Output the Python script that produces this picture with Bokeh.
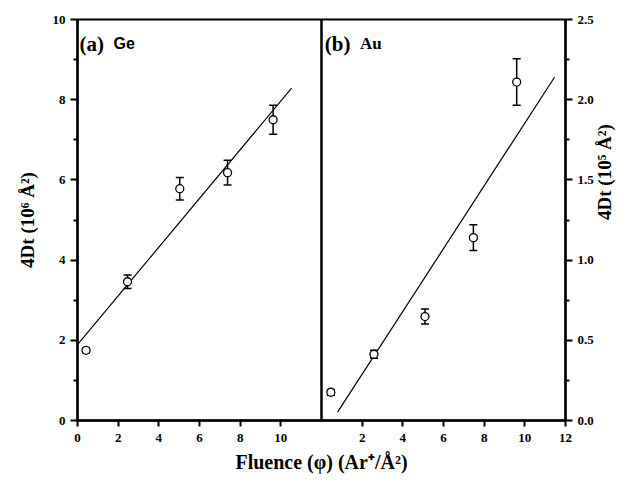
import math
import numpy as np
from bokeh.plotting import figure
from bokeh.models import (Range1d, LinearAxis, FixedTicker, Span, Label,
                          ColumnDataSource, Whisker, TeeHead)
from bokeh.embed import file_html
from bokeh.resources import INLINE

# ---- data ----
ge_fluence = [0.42, 2.46, 5.03, 7.38, 9.62]
ge_4dt = [1.75, 3.46, 5.78, 6.18, 7.50]
ge_err = [0.06, 0.17, 0.28, 0.31, 0.36]
ge_fit_x = [0.03, 10.53]
ge_fit_y = [1.91, 8.29]

au_fluence = [0.46, 2.58, 5.09, 7.47, 9.60]
au_4dt = [0.176, 0.413, 0.648, 1.14, 2.11]
au_err = [0.018, 0.025, 0.047, 0.08, 0.145]
au_fit_x = [0.79, 11.46]
au_fit_y = [0.052, 2.14]

ge_xticks = [0, 2, 4, 6, 8, 10]
au_xticks = [2, 4, 6, 8, 10, 12]
panel_width = 12  # each panel spans 0..12 in fluence

SERIF = "Liberation Serif"

p = figure(width=628, height=484, output_backend="svg", toolbar_location=None,
           x_range=Range1d(0, 2 * panel_width), y_range=Range1d(0, 10),
           min_border_left=77, min_border_right=62, min_border_top=19,
           min_border_bottom=64, background_fill_color="white",
           border_fill_color="white")
p.extra_y_ranges = {"au": Range1d(0, 2.5)}
p.grid.visible = False
p.outline_line_color = "black"
p.outline_line_width = 2

# axes styling
def style_axis(ax):
    ax.axis_line_width = 2.5
    ax.major_tick_line_width = 2
    ax.minor_tick_line_width = 2
    ax.major_tick_in = 0
    ax.minor_tick_in = 0
    ax.major_label_text_font = SERIF
    ax.major_label_text_font_style = "bold"
    ax.major_label_text_font_size = "13px"
    ax.major_label_text_color = "black"
    ax.axis_label_text_font = SERIF
    ax.axis_label_text_font_style = "bold"
    ax.axis_label_text_font_size = "19px"
    ax.axis_label_text_color = "black"
    ax.axis_line_color = "black"
    ax.major_tick_line_color = "black"
    ax.minor_tick_line_color = "black"

xaxis = p.xaxis[0]
style_axis(xaxis)
xt = ge_xticks + [t + panel_width for t in au_xticks]
xaxis.ticker = FixedTicker(ticks=xt, minor_ticks=[])
xaxis.major_label_overrides = {t + panel_width: str(t) for t in au_xticks}
xaxis.major_label_overrides.update({t: str(t) for t in ge_xticks})
xaxis.major_tick_out = 6
xaxis.major_label_standoff = 7
xaxis.axis_label = "Fluence (\u03c6) (Ar\u207a/\u00c5\u00b2)"
xaxis.axis_label_text_font_size = "20px"
xaxis.axis_label_standoff = 6

yaxis = p.yaxis[0]
style_axis(yaxis)
yaxis.ticker = FixedTicker(ticks=[0, 2, 4, 6, 8, 10], minor_ticks=[1, 3, 5, 7, 9])
yaxis.major_tick_out = 7
yaxis.minor_tick_out = 4
yaxis.major_label_standoff = 5
yaxis.axis_label = "4Dt (10\u2076 \u00c5\u00b2)"
yaxis.axis_label_standoff = 12

raxis = LinearAxis(y_range_name="au")
style_axis(raxis)
raxis.ticker = FixedTicker(ticks=[0, 0.5, 1.0, 1.5, 2.0, 2.5],
                           minor_ticks=[0.25, 0.75, 1.25, 1.75, 2.25])
raxis.major_label_overrides = {0: "0.0", 0.5: "0.5", 1.0: "1.0", 1.5: "1.5",
                               2.0: "2.0", 2.5: "2.5"}
raxis.major_tick_out = 7
raxis.minor_tick_out = 4
raxis.major_label_standoff = 5
raxis.axis_label = "4Dt (10\u2075 \u00c5\u00b2)"
raxis.axis_label_orientation = -3 * math.pi / 2
raxis.axis_label_standoff = 8
p.add_layout(raxis, "right")

# divider between panels
p.add_layout(Span(location=panel_width, dimension="height", line_color="black",
                  line_width=2.5))

# ---- panel (a) Ge ----
ge_src = ColumnDataSource(dict(
    x=ge_fluence, y=ge_4dt,
    lower=list(np.array(ge_4dt) - np.array(ge_err)),
    upper=list(np.array(ge_4dt) + np.array(ge_err))))
p.line(ge_fit_x, ge_fit_y, line_color="black", line_width=1.2)
p.add_layout(Whisker(source=ge_src, base="x", lower="lower", upper="upper",
                     dimension="height", line_color="black", line_width=1.5,
                     upper_head=TeeHead(size=8, line_width=1.5, line_color="black"),
                     lower_head=TeeHead(size=8, line_width=1.5, line_color="black")))
p.scatter("x", "y", source=ge_src, marker="circle", size=8, fill_color="white",
          line_color="black", line_width=1.3)

# ---- panel (b) Au (shifted into the right panel) ----
au_x = list(np.array(au_fluence) + panel_width)
au_src = ColumnDataSource(dict(
    x=au_x, y=au_4dt,
    lower=list(np.array(au_4dt) - np.array(au_err)),
    upper=list(np.array(au_4dt) + np.array(au_err))))
p.line(list(np.array(au_fit_x) + panel_width), au_fit_y, line_color="black",
       line_width=1.2, y_range_name="au")
p.add_layout(Whisker(source=au_src, base="x", lower="lower", upper="upper",
                     dimension="height", line_color="black", line_width=1.5,
                     y_range_name="au",
                     upper_head=TeeHead(size=8, line_width=1.5, line_color="black"),
                     lower_head=TeeHead(size=8, line_width=1.5, line_color="black")))
p.scatter("x", "y", source=au_src, marker="circle", size=8, fill_color="white",
          line_color="black", line_width=1.3, y_range_name="au")

# ---- panel labels ----
p.add_layout(Label(x=0.1, y=9.39, text="(a)", text_font=SERIF,
                   text_font_style="bold", text_font_size="21px",
                   text_baseline="alphabetic", text_color="black"))
p.add_layout(Label(x=1.77, y=9.39, text="Ge", text_font="Liberation Sans",
                   text_font_style="bold", text_font_size="16px",
                   text_baseline="alphabetic", text_color="black"))
p.add_layout(Label(x=panel_width + 0.16, y=9.39, text="(b)", text_font=SERIF,
                   text_font_style="bold", text_font_size="21px",
                   text_baseline="alphabetic", text_color="black"))
p.add_layout(Label(x=panel_width + 1.89, y=9.39, text="Au", text_font=SERIF,
                   text_font_style="bold", text_font_size="17px",
                   text_baseline="alphabetic", text_color="black"))

open("out.html", "w").write(file_html(p, INLINE))
